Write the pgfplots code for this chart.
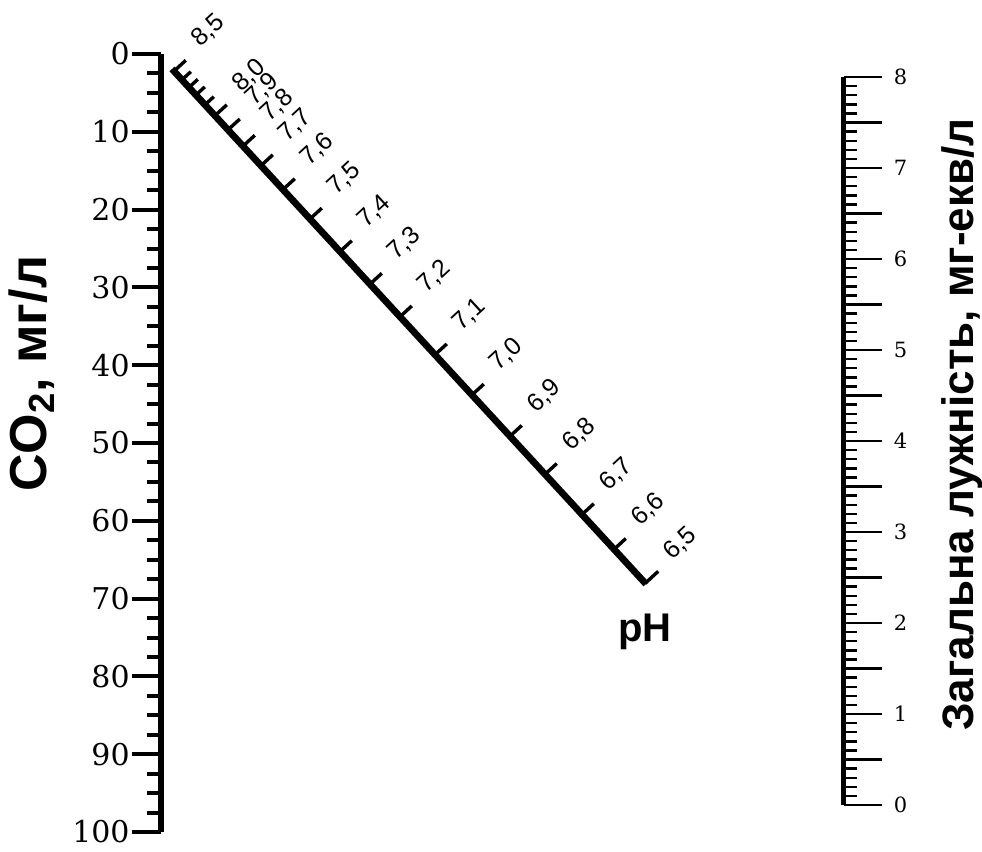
\documentclass[border=0pt]{standalone}
\usepackage{fontspec}
\usepackage{pgfplots}
\pgfplotsset{compat=1.18}
\newfontfamily\serf{DejaVu Serif}
\newfontfamily\sanf{Liberation Sans}
\begin{document}
\begin{tikzpicture}
% ---- overlay axis in pixel units: pH scale of the nomogram ----
\begin{axis}[at={(0pt,0pt)}, anchor=north west, x=0.5pt, y=0.5pt, y dir=reverse,
  xmin=0, xmax=982, ymin=0, ymax=852, hide axis, clip=false]
\addplot[draw=none, forget plot] coordinates {(0,0) (982,852)};
\addplot[black, line width=3.4pt] coordinates {(172,69) (646,584)};
\addplot[black, line width=1.7pt, no markers, quiver={u=\thisrow{u}, v=\thisrow{v}}] table {
x y u v
174 71.1 11.8 -10.8
182 79.8 8.8 -8.1
189 87.4 8.8 -8.1
196 95.0 8.8 -8.1
205 104.8 8.8 -8.1
215 115.6 11.8 -10.8
228 129.8 11.8 -10.8
243 146.1 11.8 -10.8
261 165.6 11.8 -10.8
283 189.5 11.8 -10.8
310 218.9 11.8 -10.8
340 251.5 11.8 -10.8
370 284.1 11.8 -10.8
400 316.7 11.8 -10.8
435 354.7 11.8 -10.8
472 394.9 11.8 -10.8
510 436.2 11.8 -10.8
545 474.3 11.8 -10.8
582 514.5 11.8 -10.8
614 549.3 11.8 -10.8
645 583.5 13.2 -12.2
};
\addplot[black, only marks, mark=none, nodes near coords, point meta=explicit symbolic,
  nodes near coords style={anchor=west, rotate=42.6, inner sep=0pt, font=\sanf\fontsize{12.5}{12.5}\selectfont}]
  table[meta=lab] {
x y lab
195 43.0 8,5
236 87.5 8,0
249 101.7 7,9
264 118.0 7,8
282 137.5 7,7
304 161.4 7,6
331 190.8 7,5
361 223.4 7,4
391 256.0 7,3
421 288.6 7,2
456 326.6 7,1
493 366.8 7,0
531 408.1 6,9
566 446.2 6,8
603 486.4 6,7
635 521.2 6,6
667 556.0 6,5
};
\node[font=\sanf\bfseries\fontsize{20}{20}\selectfont] at (axis cs:645,632) {pH};
\end{axis}
% ---- CO2 scale (left) ----
\begin{axis}[at={(80.5pt,-27pt)}, anchor=north west, x=0.5pt, y=3.89pt, y dir=reverse,
  xmin=161, xmax=162, ymin=0, ymax=100,
  axis x line=none, axis y line*=left,
  ytick={0,10,...,100}, minor y tick num=3,
  tick align=outside, major tick length=14.5pt, minor tick length=7pt,
  every tick/.style={black, line width=2pt},
  axis line style={black, line width=3.3pt},
  /pgf/number format/assume math mode=true,
  yticklabel style={font=\serf\fontsize{15}{15}\selectfont, inner sep=1pt},
  ylabel={CO\textsubscript{2}, мг/л},
  every axis y label/.style={at={(axis cs:32,41.1)}, rotate=90, anchor=center,
    font=\sanf\bfseries\fontsize{26}{26}\selectfont}]
\end{axis}
% ---- total alkalinity scale (right) ----
\begin{axis}[at={(421.75pt,-402.5pt)}, anchor=south east, x=0.5pt, y=45.5pt,
  xmin=842.5, xmax=843.5, ymin=0, ymax=8,
  axis x line=none, axis y line*=right,
  ytick={0,...,8}, minor y tick num=9,
  extra y ticks={0.5,1.5,...,7.5}, extra y tick labels={},
  tick align=outside, major tick length=19pt, minor tick length=6.5pt,
  every tick/.style={black, line width=1.2pt},
  axis line style={black, line width=2.4pt},
  /pgf/number format/assume math mode=true,
  yticklabel style={font=\serf\fontsize{10.5}{10.5}\selectfont, inner sep=1pt, xshift=5pt},
  ylabel={Загальна лужність, мг-екв/л},
  every axis y label/.style={at={(axis cs:962,4.18)}, rotate=90, anchor=center,
    font=\sanf\bfseries\fontsize{22}{22}\selectfont}]
\end{axis}
\pgfresetboundingbox
\useasboundingbox (0pt,0pt) rectangle (491pt,-426pt);
\end{tikzpicture}
\end{document}
